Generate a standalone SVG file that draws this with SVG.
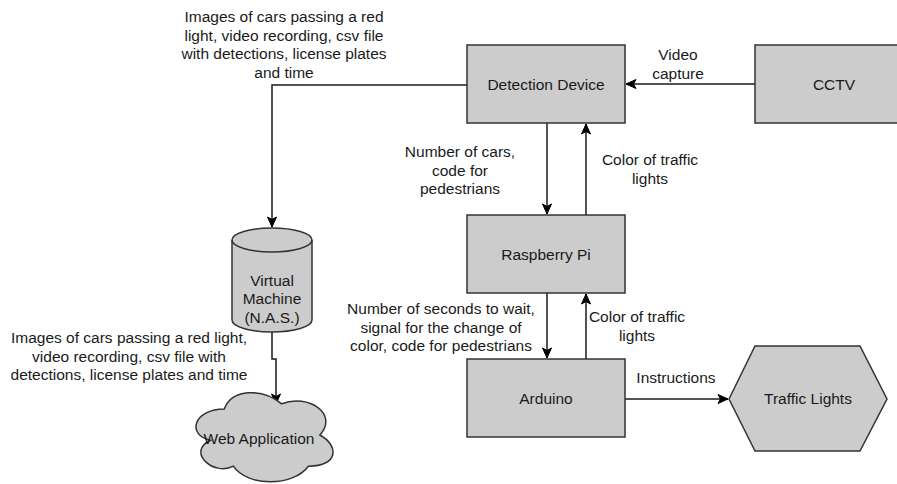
<svg xmlns="http://www.w3.org/2000/svg" width="897" height="484" viewBox="0 0 897 484">
<defs>
<marker id="arr" markerUnits="userSpaceOnUse" markerWidth="12" markerHeight="12" viewBox="0 0 12 12" refX="11" refY="6" orient="auto">
<path d="M1,1.5 L11,6 L1,10.5 L3.5,6 Z" fill="#000" stroke="#000" stroke-width="1"/>
</marker>
<style>
.node{fill:#cccccc;stroke:#333333;stroke-width:1.5}
.lbl{font-family:"Liberation Sans",Arial,sans-serif;font-size:15.5px;fill:#1a1a1a;text-anchor:middle}
.edge{fill:none;stroke:#1a1a1a;stroke-width:1.5;marker-end:url(#arr)}
</style>
</defs>
<rect width="897" height="484" fill="#ffffff"/>
<g id="connectors">
<path class="edge" d="M755,84 H626"/>
<path class="edge" d="M547,123 V214"/>
<path class="edge" d="M586,215 V124"/>
<path class="edge" d="M547,293 V358"/>
<path class="edge" d="M586,359 V294"/>
<path class="edge" d="M625,399 H728"/>
<path class="edge" d="M467,85 H272 V227"/>
<path class="edge" d="M272,332 V359 H276 V404"/>
</g>
<g id="edge-labels">
<text class="lbl" x="284" y="22">Images of cars passing a red</text>
<text class="lbl" x="284" y="40.5">light, video recording, csv file</text>
<text class="lbl" x="284" y="59">with detections, license plates</text>
<text class="lbl" x="284" y="77.5">and time</text>
<text class="lbl" x="678" y="60">Video</text>
<text class="lbl" x="678" y="79">capture</text>
<text class="lbl" x="460" y="157">Number of cars,</text>
<text class="lbl" x="460" y="175.5">code for</text>
<text class="lbl" x="460" y="194">pedestrians</text>
<text class="lbl" x="650" y="165">Color of traffic</text>
<text class="lbl" x="650" y="183.5">lights</text>
<text class="lbl" x="441" y="314">Number of seconds to wait,</text>
<text class="lbl" x="441" y="332.5">signal for the change of</text>
<text class="lbl" x="441" y="351">color, code for pedestrians</text>
<text class="lbl" x="637" y="322">Color of traffic</text>
<text class="lbl" x="637" y="340.5">lights</text>
<text class="lbl" x="676" y="383">Instructions</text>
<text class="lbl" x="129" y="343">Images of cars passing a red light,</text>
<text class="lbl" x="129" y="361.5">video recording, csv file with</text>
<text class="lbl" x="129" y="380">detections, license plates and time</text>
</g>
<g id="detection-device">
<rect class="node" x="467" y="45" width="158" height="78"/>
<text class="lbl" x="546" y="89.5">Detection Device</text>
</g>
<g id="cctv">
<rect class="node" x="755" y="45" width="158" height="78"/>
<text class="lbl" x="834" y="89.5">CCTV</text>
</g>
<g id="raspberry-pi">
<rect class="node" x="467" y="215" width="158" height="78"/>
<text class="lbl" x="546" y="259.5">Raspberry Pi</text>
</g>
<g id="arduino">
<rect class="node" x="467" y="359" width="158" height="78"/>
<text class="lbl" x="546" y="403.5">Arduino</text>
</g>
<g id="traffic-lights">
<polygon class="node" points="729,399 755,346 860,346 887,399 860,451 755,451"/>
<text class="lbl" x="808" y="403.5">Traffic Lights</text>
</g>
<g id="virtual-machine">
<path class="node" d="M232,240 A40,12 0 0 1 312,240 V320 A40,12 0 0 1 232,320 Z"/>
<path d="M232,240 A40,12 0 0 0 312,240" fill="none" stroke="#333333" stroke-width="1.5"/>
<text class="lbl" x="272" y="285.5">Virtual</text>
<text class="lbl" x="272" y="304">Machine</text>
<text class="lbl" x="272" y="322.5">(N.A.S.)</text>
</g>
<g id="web-application">
<path class="node" d="M224.3,409 C193.7,409 186,435 210.5,440.2 C186,451.6 213.5,476.6 233.4,466.2 C247.2,487 293.1,487 308.4,466.2 C339,466.2 339,445.4 319.9,435 C339,414.2 308.4,393.4 281.6,403.8 C262.4,388.2 231.9,388.2 224.3,409 Z"/>
<text class="lbl" x="259" y="443.5">Web Application</text>
</g>
</svg>
